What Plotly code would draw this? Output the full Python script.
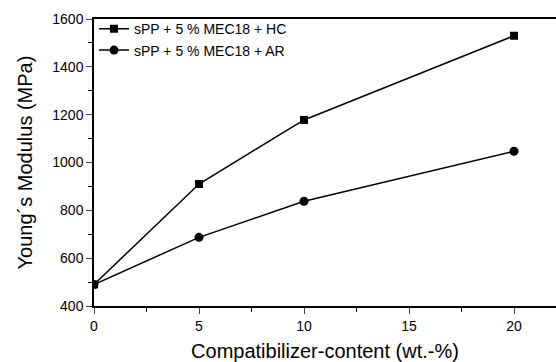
import plotly.graph_objects as go

x_content = [0, 5, 10, 20]
hc_values = [490, 910, 1178, 1530]
ar_values = [490, 687, 838, 1047]
series_names = ["sPP + 5 % MEC18 + HC", "sPP + 5 % MEC18 + AR"]

fig = go.Figure()
fig.add_trace(go.Scatter(x=x_content, y=hc_values, mode="lines+markers", name=series_names[0],
                         line=dict(color="black", width=1.5),
                         marker=dict(symbol="square", size=8, color="black")))
fig.add_trace(go.Scatter(x=x_content, y=ar_values, mode="lines+markers", name=series_names[1],
                         line=dict(color="black", width=1.5),
                         marker=dict(symbol="circle", size=9, color="black")))

font = "Liberation Sans, Arial, sans-serif"
fig.update_layout(
    width=556, height=362,
    margin=dict(l=94, r=0, t=19, b=56),
    paper_bgcolor="white", plot_bgcolor="white",
    font=dict(family=font, color="black"),
    showlegend=True,
    legend=dict(x=0, y=1.02, xanchor="left", yanchor="top", bgcolor="rgba(0,0,0,0)",
                font=dict(size=14, family=font), tracegroupgap=0, itemwidth=30,
                borderwidth=0),
    xaxis=dict(range=[0, 22], tickvals=[0, 5, 10, 15, 20], ticks="outside", ticklen=6,
               showline=True, linecolor="black", linewidth=1.5, mirror=True, automargin=False,
               showgrid=False, zeroline=False, tickfont=dict(size=14),
               minor=dict(tickvals=[2.5, 7.5, 12.5, 17.5], ticks="outside", ticklen=4, tickcolor="black"),
               title=dict(text="Compatibilizer-content (wt.-%)", font=dict(size=20), standoff=14)),
    yaxis=dict(range=[400, 1600], tickvals=[400, 600, 800, 1000, 1200, 1400, 1600], ticks="outside", ticklen=6,
               showline=True, linecolor="black", linewidth=1.5, automargin=False,
               showgrid=False, zeroline=False, tickfont=dict(size=14),
               minor=dict(tickvals=[500, 700, 900, 1100, 1300, 1500], ticks="outside", ticklen=4, tickcolor="black"),
               title=dict(text="Young´s Modulus (MPa)", font=dict(size=20), standoff=14)),
)
fig.write_html("out.html", config={"displayModeBar": False},
               post_script="document.body.style.margin='0px';document.body.style.overflow='hidden';")
